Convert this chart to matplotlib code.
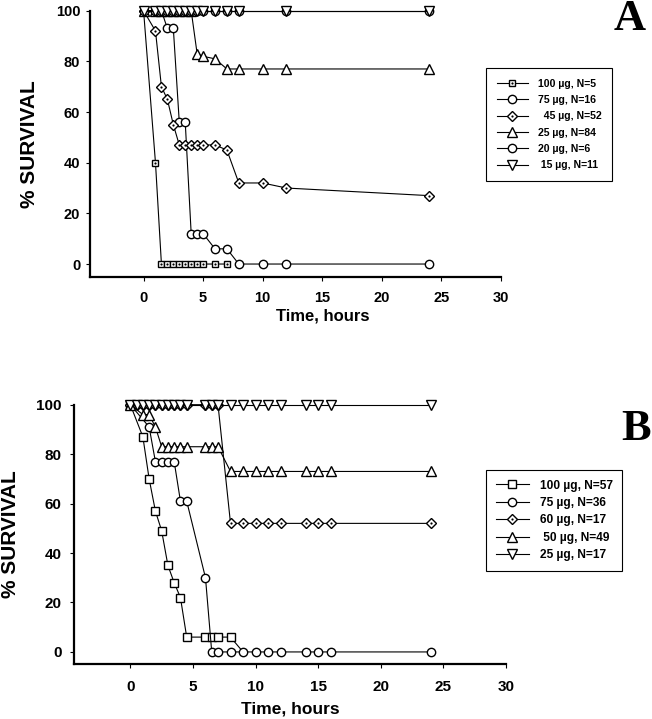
"""Survival curves for two dosing experiments (panels A and B)."""

import matplotlib
import matplotlib.pyplot as plt

matplotlib.use('Agg')

plt.rcParams['font.family'] = ['Liberation Sans', 'DejaVu Sans']

# ---- panel A data (hours, % survival) ----
t_a_100 = [0, 1, 1.5, 2, 2.5, 3, 3.5, 4, 4.5, 5, 6, 7]
s_a_100 = [100, 40, 0, 0, 0, 0, 0, 0, 0, 0, 0, 0]
t_a_75 = [0, 1, 1.5, 2, 2.5, 3, 3.5, 4, 4.5, 5, 6, 7, 8, 10, 12, 24]
s_a_75 = [100, 100, 100, 93, 93, 56, 56, 12, 12, 12, 6, 6, 0, 0, 0, 0]
t_a_45 = [0, 1, 1.5, 2, 2.5, 3, 3.5, 4, 4.5, 5, 6, 7, 8, 10, 12, 24]
s_a_45 = [100, 92, 70, 65, 55, 47, 47, 47, 47, 47, 47, 45, 32, 32, 30, 27]
t_a_25 = [0, 1, 1.5, 2, 2.5, 3, 3.5, 4, 4.5, 5, 6, 7, 8, 10, 12, 24]
s_a_25 = [100, 100, 100, 100, 100, 100, 100, 100, 83, 82, 81, 77, 77, 77, 77, 77]
t_a_20 = [0, 1, 1.5, 2, 2.5, 3, 3.5, 4, 4.5, 5, 6, 7, 8, 12, 24]
s_a_20 = [100, 100, 100, 100, 100, 100, 100, 100, 100, 100, 100, 100, 100, 100, 100]
t_a_15 = [0, 1, 1.5, 2, 2.5, 3, 3.5, 4, 4.5, 5, 6, 7, 8, 12, 24]
s_a_15 = [100, 100, 100, 100, 100, 100, 100, 100, 100, 100, 100, 100, 100, 100, 100]
labels_a = ['100 µg, N=5', '75 µg, N=16', '  45 µg, N=52', '25 µg, N=84', '20 µg, N=6', ' 15 µg, N=11']

# ---- panel B data ----
t_b_100 = [0, 1, 1.5, 2, 2.5, 3, 3.5, 4, 4.5, 6, 6.5, 7, 8, 9]
s_b_100 = [100, 87, 70, 57, 49, 35, 28, 22, 6, 6, 6, 6, 6, 0]
t_b_75 = [0, 1.5, 2, 2.5, 3, 3.5, 4, 4.5, 6, 6.5, 7, 8, 9, 10, 11, 12, 14, 15, 16, 24]
s_b_75 = [100, 91, 77, 77, 77, 77, 61, 61, 30, 0, 0, 0, 0, 0, 0, 0, 0, 0, 0, 0]
t_b_60 = [0, 0.5, 1, 1.5, 2, 2.5, 3, 3.5, 4, 4.5, 6, 6.5, 7, 8, 9, 10, 11, 12, 14, 15, 16, 24]
s_b_60 = [100, 100, 100, 100, 100, 100, 100, 100, 100, 100, 100, 100, 100,
          52, 52, 52, 52, 52, 52, 52, 52, 52]
t_b_50 = [0, 1, 1.5, 2, 2.5, 3, 3.5, 4, 4.5, 6, 6.5, 7, 8, 9, 10, 11, 12, 14, 15, 16, 24]
s_b_50 = [100, 96, 96, 91, 83, 83, 83, 83, 83, 83, 83, 83, 73, 73, 73, 73, 73, 73, 73, 73, 73]
t_b_25 = [0, 0.5, 1, 1.5, 2, 2.5, 3, 3.5, 4, 4.5, 6, 6.5, 7, 8, 9, 10, 11, 12, 14, 15, 16, 24]
s_b_25 = [100, 100, 100, 100, 100, 100, 100, 100, 100, 100, 100, 100, 100,
          100, 100, 100, 100, 100, 100, 100, 100, 100]
labels_b = ['100 µg, N=57', '75 µg, N=36', '60 µg, N=17', ' 50 µg, N=49', '25 µg, N=17']

x_ticks = [0, 5, 10, 15, 20, 25, 30]
y_ticks = [0, 20, 40, 60, 80, 100]


def _series(ax, t, s, marker, ms, dotted=False, markevery=None):
    line, = ax.plot(t, s, color='black', lw=0.8, marker=marker, ms=ms, mfc='white',
                    mec='black', mew=1.0, clip_on=False, markevery=markevery)
    if not dotted:
        return line
    dots, = ax.plot(t, s, ls='none', marker='o', ms=1.6, mfc='black', mec='black',
                    mew=0, clip_on=False, markevery=markevery)
    return (line, dots)


def _style(ax, tick_size, ypad, xpad):
    ax.set_xlim(-4.5, 30)
    ax.set_ylim(-5, 100)
    ax.set_xticks(x_ticks)
    ax.set_yticks(y_ticks)
    for side in ('top', 'right'):
        ax.spines[side].set_visible(False)
    ax.spines['left'].set_bounds(-5, 100)
    for side in ('left', 'bottom'):
        ax.spines[side].set_linewidth(1.6)
    ax.tick_params(axis='both', direction='out', length=3, width=0.8, labelsize=tick_size)
    ax.tick_params(axis='y', pad=ypad)
    ax.tick_params(axis='x', pad=xpad)
    for lab in ax.get_xticklabels() + ax.get_yticklabels():
        lab.set_fontweight('bold')


fig = plt.figure(figsize=(6.52, 7.19), dpi=100)
ax_a = fig.add_axes([90 / 652, 1 - 276.7 / 719, 410.7 / 652, 266 / 719])
ax_b = fig.add_axes([74 / 652, 1 - 664.3 / 719, 432 / 652, 259.6 / 719])

# panel A
h_a = [
    _series(ax_a, t_a_100, s_a_100, 's', 5, dotted=True),
    _series(ax_a, t_a_75, s_a_75, 'o', 6),
    _series(ax_a, t_a_45, s_a_45, 'D', 5, dotted=True),
    _series(ax_a, t_a_25, s_a_25, '^', 6.5),
    _series(ax_a, t_a_20, s_a_20, 'o', 6),
    _series(ax_a, t_a_15, s_a_15, 'v', 6.5),
]
_style(ax_a, 10.5, 4, 7)
ax_a.set_ylabel('% SURVIVAL', fontsize=15, fontweight='bold')
ax_a.yaxis.set_label_coords(-0.125, 0.5)
ax_a.set_xlabel('Time, hours', fontsize=12, fontweight='bold')
ax_a.xaxis.set_label_coords(0.566, -0.12)

# panel B
h_b = [
    _series(ax_b, t_b_100, s_b_100, 's', 5.5, markevery=list(range(len(t_b_100) - 1))),
    _series(ax_b, t_b_75, s_b_75, 'o', 6),
    _series(ax_b, t_b_60, s_b_60, 'D', 5, dotted=True),
    _series(ax_b, t_b_50, s_b_50, '^', 6.5),
    _series(ax_b, t_b_25, s_b_25, 'v', 6.5),
]
_style(ax_b, 11, 6, 8)
ax_b.set_ylabel('% SURVIVAL', fontsize=15, fontweight='bold')
ax_b.yaxis.set_label_coords(-0.125, 0.5)
ax_b.set_xlabel('Time, hours', fontsize=12.5, fontweight='bold')
ax_b.xaxis.set_label_coords(0.5, -0.145)

leg_kw = dict(loc='upper left', borderaxespad=0, frameon=True, fancybox=False,
              edgecolor='black', framealpha=1, handletextpad=0.9)
leg_a = fig.legend(h_a, labels_a, bbox_to_anchor=(486 / 652, 1 - 68 / 719),
                   prop={'weight': 'bold', 'size': 7.6}, handlelength=3.0,
                   labelspacing=0.6, borderpad=1.0, **leg_kw)
leg_b = fig.legend(h_b, labels_b, bbox_to_anchor=(486 / 652, 1 - 470 / 719),
                   prop={'weight': 'bold', 'size': 8.6}, handlelength=2.8,
                   labelspacing=0.45, borderpad=0.8, **leg_kw)
for leg in (leg_a, leg_b):
    leg.get_frame().set_linewidth(0.8)

fig.text(630 / 652, 1 - 30 / 719, 'A', family='Liberation Serif', fontweight='bold',
         fontsize=32, ha='center', va='baseline')
fig.text(636 / 652, 1 - 440 / 719, 'B', family='Liberation Serif', fontweight='bold',
         fontsize=32, ha='center', va='baseline')

fig.savefig('out.png', dpi=100)
plt.close(fig)
